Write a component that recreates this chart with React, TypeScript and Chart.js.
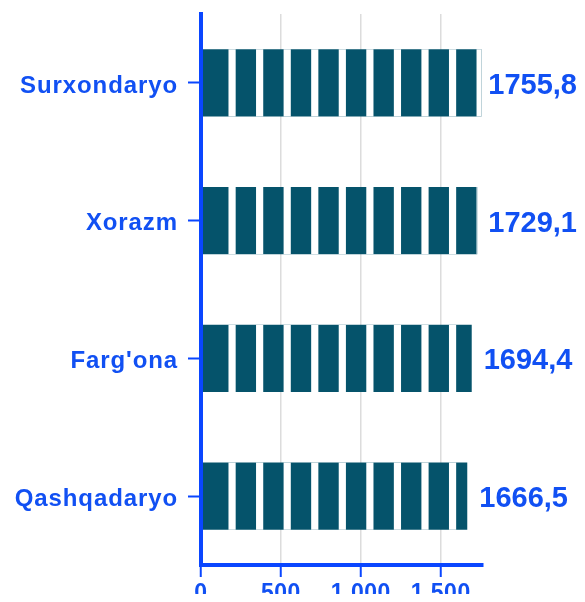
import { useEffect, useRef } from "react";
import { Chart, registerables } from "chart.js";

Chart.register(...registerables);

const categories = ["Surxondaryo", "Xorazm", "Farg'ona", "Qashqadaryo"];
const values = [1755.8, 1729.1, 1694.4, 1666.5];
const xTickValues = [0, 500, 1000, 1500];

const TEXT_BLUE = "#1150f3";
const AXIS_BLUE = "#0a46ff";
const BAR_COLOR = "#05536b";
const FONT = "'Liberation Sans', Arial, sans-serif";

const fmtTick = (v: number) => String(v).replace(/\B(?=(\d{3})+(?!\d))/g, " ");
const fmtVal = (v: number) => v.toFixed(1).replace(".", ",");

// x axis labels (drawn before the bars) use a light spacing
const spacingPlugin = {
  id: "spacing",
  beforeDraw(chart: any) {
    chart.ctx.letterSpacing = "0.5px";
  },
};

const stripePlugin = {
  id: "stripes",
  afterDatasetsDraw(chart: any) {
    const ctx = chart.ctx;
    const xs = chart.scales.x;
    const meta = chart.getDatasetMeta(0);
    meta.data.forEach((bar: any) => {
      const { x, y, base, height } = bar.getProps(["x", "y", "base", "height"], true);
      const top = y - height / 2;
      ctx.save();
      ctx.beginPath();
      ctx.rect(base, top, x - base, height);
      ctx.clip();
      ctx.fillStyle = "#ffffff";
      for (let v = 172; v < xs.max; v += 172.5) {
        const p0 = xs.getPixelForValue(v);
        const p1 = xs.getPixelForValue(v + 45);
        ctx.fillRect(p0, top - 1, p1 - p0, height + 2);
      }
      ctx.restore();
    });
    // y axis labels (drawn after the bars, z: 1) use a wider spacing
    ctx.letterSpacing = "0.9px";
  },
};

const valueLabelPlugin = {
  id: "valueLabels",
  afterDraw(chart: any) {
    const ctx = chart.ctx;
    const meta = chart.getDatasetMeta(0);
    ctx.save();
    ctx.letterSpacing = "0px";
    ctx.font = `bold 29px ${FONT}`;
    ctx.fillStyle = TEXT_BLUE;
    ctx.textBaseline = "middle";
    ctx.textAlign = "left";
    meta.data.forEach((bar: any, i: number) => {
      const text = fmtVal(values[i]);
      const w = ctx.measureText(text).width;
      const lx = Math.min(bar.x + 12, chart.width - w);
      ctx.fillText(text, lx, bar.y + 3);
    });
    ctx.restore();
    ctx.letterSpacing = "0px";
  },
};

export default function App() {
  const ref = useRef<HTMLCanvasElement | null>(null);

  useEffect(() => {
    if (!ref.current) return;
    const chart = new Chart(ref.current, {
      type: "bar",
      data: {
        labels: categories,
        datasets: [
          {
            data: values,
            backgroundColor: BAR_COLOR,
            borderWidth: 0,
            barPercentage: 0.49,
            categoryPercentage: 1,
          },
        ],
      },
      options: {
        indexAxis: "y",
        responsive: true,
        maintainAspectRatio: false,
        animation: false,
        layout: { padding: { top: 6, right: 94, left: 0, bottom: 0 } },
        plugins: { legend: { display: false }, tooltip: { enabled: false } },
        scales: {
          x: {
            type: "linear",
            min: 0,
            max: 1765,
            afterBuildTicks: (s: any) => {
              s.ticks = xTickValues.map((v) => ({ value: v }));
            },
            afterFit: (s: any) => {
              s.height = 37;
              s.paddingLeft = 0;
              s.paddingRight = 0;
            },
            ticks: {
              color: TEXT_BLUE,
              font: { family: FONT, size: 23, weight: "bold" },
              padding: 3,
              callback: (v: any) => fmtTick(Number(v)),
            },
            grid: {
              color: "#dcdcdc",
              lineWidth: 1.5,
              tickColor: AXIS_BLUE,
              tickLength: 12,
              tickWidth: 2,
            },
            border: { color: AXIS_BLUE, width: 4 },
          },
          y: {
            type: "category",
            afterFit: (s: any) => {
              s.width = 193;
              s.paddingTop = 0;
              s.paddingBottom = 0;
            },
            ticks: {
              z: 1,
              color: TEXT_BLUE,
              font: { family: FONT, size: 24, weight: "bold" },
              padding: 10,
              labelOffset: 3,
            },
            grid: {
              display: true,
              drawOnChartArea: false,
              offset: false,
              tickColor: AXIS_BLUE,
              tickLength: 13,
              tickWidth: 2,
            },
            border: { color: AXIS_BLUE, width: 4, z: 1 },
          },
        },
      },
      plugins: [spacingPlugin, stripePlugin, valueLabelPlugin],
    } as any);
    return () => chart.destroy();
  }, []);

  return (
    <div style={{ position: "relative", height: 594, marginBottom: -8 }}>
      <canvas ref={ref} />
    </div>
  );
}
